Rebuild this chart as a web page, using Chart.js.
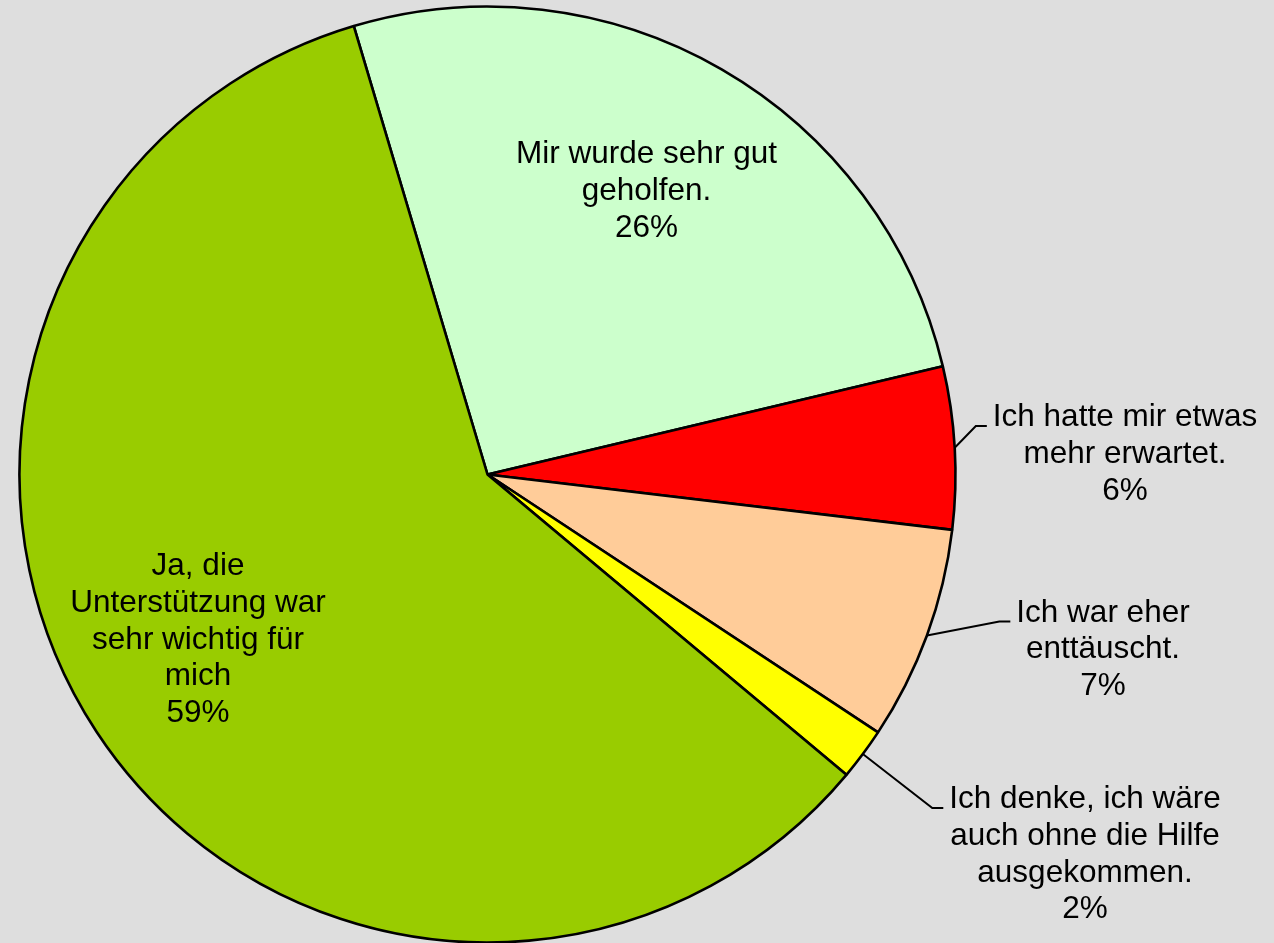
<!DOCTYPE html>
<html>
<head>
<meta charset="utf-8">
<script src="https://cdn.jsdelivr.net/npm/chart.js@4.4.0/dist/chart.umd.min.js"></script>
<style>
  html, body { margin: 0; padding: 0; background: #DEDEDE; }
  #wrap { width: 1274px; height: 943px; }
</style>
</head>
<body>
<div id="wrap"><canvas id="c" width="1274" height="943"></canvas></div>
<script>
// ---- data ----
const categories = [
  ['Mir wurde sehr gut', 'geholfen.'],
  ['Ich hatte mir etwas', 'mehr erwartet.'],
  ['Ich war eher', 'enttäuscht.'],
  ['Ich denke, ich wäre', 'auch ohne die Hilfe', 'ausgekommen.'],
  ['Ja, die', 'Unterstützung war', 'sehr wichtig für', 'mich']
];
const shares = [25.9, 5.6, 7.4, 1.8, 59.3];
const sliceColors = ['#CCFFCC', '#FF0000', '#FFCC99', '#FFFF00', '#99CC00'];

// label placement relative to pie centre (layout only)
const labelLayout = [
  { dx: 159,   dy: -311.5, leader: false },
  { dx: 637.5, dy: -48.5,  leader: true },
  { dx: 615.5, dy: 147,    leader: true },
  { dx: 597.5, dy: 333.5,  leader: true },
  { dx: -289.5, dy: 100.5, leader: false }
];

const FONT = '31.5px "Liberation Sans", Arial, sans-serif';
const LINE_H = 36.8;

const sliceLabels = {
  id: 'sliceLabels',
  afterDatasetsDraw(chart) {
    const ctx = chart.ctx;
    const meta = chart.getDatasetMeta(0);
    const data = chart.data.datasets[0].data;
    const total = data.reduce((a, b) => a + b, 0);
    ctx.save();
    ctx.font = FONT;
    ctx.fillStyle = '#000';
    ctx.strokeStyle = '#000';
    ctx.lineWidth = 2;
    ctx.textAlign = 'center';
    ctx.textBaseline = 'alphabetic';
    meta.data.forEach((arc, i) => {
      const p = arc.getProps(['x', 'y', 'startAngle', 'endAngle', 'outerRadius'], true);
      const L = labelLayout[i];
      const lines = chart.data.labels[i].concat([Math.round(data[i] / total * 100) + '%']);
      const cx = p.x + L.dx;
      const by = p.y + L.dy;
      lines.forEach((t, k) => ctx.fillText(t, cx, by + k * LINE_H));
      if (L.leader) {
        const w = ctx.measureText(lines[0]).width;
        const left = cx - w / 2;
        const mid = (p.startAngle + p.endAngle) / 2;
        const sx = p.x + Math.cos(mid) * p.outerRadius;
        const sy = p.y + Math.sin(mid) * p.outerRadius;
        ctx.beginPath();
        ctx.moveTo(sx, sy);
        ctx.lineTo(left - 17, by);
        ctx.lineTo(left - 6, by);
        ctx.stroke();
      }
    });
    ctx.restore();
  }
};

new Chart(document.getElementById('c'), {
  type: 'pie',
  data: {
    labels: categories,
    datasets: [{
      data: shares,
      backgroundColor: sliceColors,
      borderColor: '#000',
      borderWidth: 2.6
    }]
  },
  options: {
    responsive: false,
    animation: false,
    rotation: -16.6,
    radius: 468,
    layout: { padding: { left: 19, right: 318, top: 6, bottom: 0 } },
    plugins: {
      legend: { display: false },
      tooltip: { enabled: false }
    }
  },
  plugins: [sliceLabels]
});
</script>
</body>
</html>
